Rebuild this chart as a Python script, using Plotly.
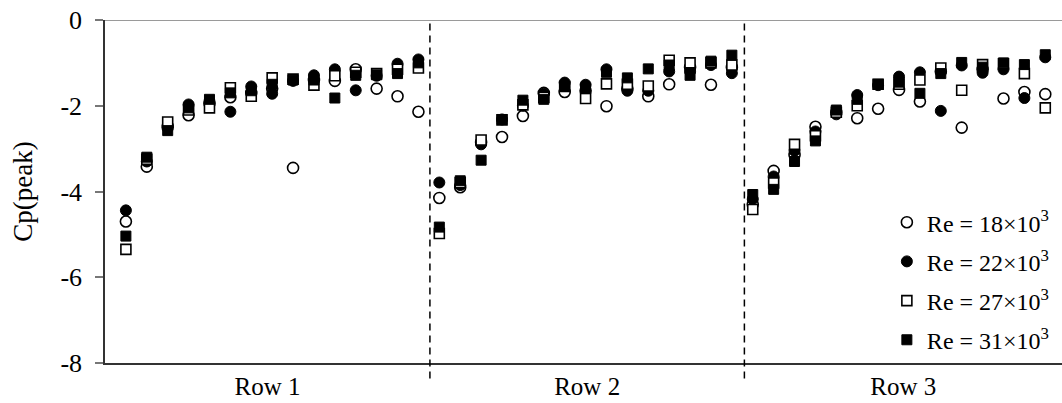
import plotly.graph_objects as go

# Peak pressure coefficient per tap position, grouped by tube row
row_labels = ["Row 1", "Row 2", "Row 3"]
row_bounds = [-1.0, 14.55, 29.6, 44.8]  # section edges on the tap-index axis

series_names = [
    "Re = 18×10<sup>3</sup>",
    "Re = 22×10<sup>3</sup>",
    "Re = 27×10<sup>3</sup>",
    "Re = 31×10<sup>3</sup>",
]

re18 = [
    -4.70, -3.42, -2.50, -2.22, -1.95, -1.80, -1.70, -1.60, -3.45, -1.40, -1.42, -1.15, -1.60, -1.78, -2.14,
    -4.15, -3.90, -2.85, -2.73, -2.24, -1.70, -1.68, -1.65, -2.01, -1.60, -1.78, -1.50, -1.10, -1.51, -1.10,
    -4.30, -3.52, -3.15, -2.49, -2.15, -2.29, -2.07, -1.63, -1.90, -1.20, -2.51, -1.15, -1.83, -1.68, -1.73,
]
re22 = [
    -4.44, -3.30, -2.45, -1.97, -1.90, -2.14, -1.55, -1.72, -1.42, -1.29, -1.15, -1.64, -1.30, -1.02, -0.92,
    -3.79, -3.85, -2.90, -2.32, -2.00, -1.72, -1.46, -1.51, -1.15, -1.65, -1.65, -1.20, -1.20, -1.05, -1.24,
    -4.18, -3.65, -3.05, -2.60, -2.20, -1.75, -1.52, -1.32, -1.22, -2.12, -1.06, -1.23, -1.15, -1.82, -0.87,
]
re27 = [
    -5.35, -3.25, -2.38, -2.10, -2.05, -1.58, -1.78, -1.35, -1.38, -1.52, -1.30, -1.22, -1.25, -1.15, -1.12,
    -4.98, -3.80, -2.80, -2.33, -1.98, -1.80, -1.55, -1.83, -1.49, -1.50, -1.54, -0.94, -1.00, -1.00, -1.05,
    -4.42, -3.80, -2.90, -2.70, -2.15, -2.00, -1.50, -1.50, -1.40, -1.12, -1.64, -1.04, -1.02, -1.25, -2.05,
]
re31 = [
    -5.04, -3.20, -2.58, -2.05, -1.85, -1.70, -1.65, -1.50, -1.40, -1.40, -1.82, -1.29, -1.28, -1.25, -1.00,
    -4.83, -3.75, -3.27, -2.32, -1.87, -1.85, -1.55, -1.60, -1.22, -1.35, -1.14, -1.05, -1.29, -0.96, -0.82,
    -4.07, -3.95, -3.30, -2.82, -2.10, -1.85, -1.50, -1.45, -1.71, -1.25, -0.99, -1.10, -1.00, -1.04, -0.81,
]

y_ticks = [0, -2, -4, -6, -8]

tap_index = list(range(len(re18)))
serif = "Liberation Serif"

styles = [
    dict(symbol="circle", color="white", line=dict(color="black", width=1.6), size=11),
    dict(symbol="circle", color="black", line=dict(color="black", width=1), size=11),
    dict(symbol="square", color="white", line=dict(color="black", width=1.6), size=10),
    dict(symbol="square", color="black", line=dict(color="black", width=1), size=10),
]

fig = go.Figure()
for i, (name, vals, mk) in enumerate(zip(series_names, [re18, re22, re27, re31], styles)):
    fig.add_trace(go.Scatter(
        x=tap_index, y=vals, mode="markers", name=name,
        marker=mk, legendgroup=f"g{i}",
    ))

# dashed separators between rows, extending slightly below the axis
for xb in row_bounds[1:-1]:
    fig.add_shape(type="line", xref="x", yref="paper", x0=xb, x1=xb, y0=-0.045, y1=1,
                  line=dict(color="black", width=1.5, dash="7px,5px"))

# top border at Cp = 0
fig.add_shape(type="line", xref="paper", yref="y", x0=0, x1=1, y0=0, y1=0,
              line=dict(color="#9a9a9a", width=2))

row_centres = [(row_bounds[i] + row_bounds[i + 1]) / 2 for i in range(len(row_labels))]

fig.update_layout(
    width=1062, height=403,
    margin=dict(l=105, r=0, t=20, b=40),
    paper_bgcolor="white", plot_bgcolor="white",
    font=dict(family=serif, size=25, color="black"),
    showlegend=True,
    legend=dict(
        x=0.817, y=0.475, xanchor="left", yanchor="top",
        bgcolor="rgba(0,0,0,0)", font=dict(size=24, family=serif),
        traceorder="grouped", tracegroupgap=5, itemwidth=30,
    ),
    xaxis=dict(
        range=[row_bounds[0], row_bounds[-1]],
        tickvals=row_centres, ticktext=row_labels, ticks="",
        tickfont=dict(size=25, family=serif),
        showgrid=False, zeroline=False,
        showline=True, linecolor="#333333", linewidth=2,
        ticklabelstandoff=0,
    ),
    yaxis=dict(
        range=[-8, 0], tickvals=y_ticks, ticktext=[str(v) for v in y_ticks],
        ticks="outside", ticklen=8, tickcolor="#777777", tickwidth=1.5,
        tickfont=dict(size=26, family=serif),
        showgrid=False, zeroline=False,
        showline=True, linecolor="#333333", linewidth=1.5,
        title=dict(text="Cp(peak)", standoff=20, font=dict(size=27, family=serif)),
        ticklabelstandoff=8,
    ),
)

fig.write_html("out.html")
